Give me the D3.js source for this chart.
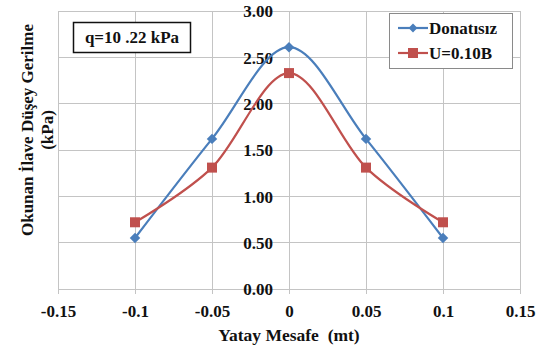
<!DOCTYPE html>
<html><head><meta charset="utf-8">
<script src="https://cdn.jsdelivr.net/npm/d3@7"></script>
<style>body{margin:0;background:#fff}svg{display:block}svg text{font-family:"Liberation Serif","Times New Roman",Times,serif;font-weight:bold}</style>
</head><body>
<svg id="c" width="542" height="351"></svg>
<script>
const xValues = [-0.1, -0.05, 0, 0.05, 0.1];
const donatisiz = [0.55, 1.62, 2.61, 1.62, 0.55];
const u010B = [0.72, 1.31, 2.33, 1.31, 0.72];
const seriesNames = ["Donatısız", "U=0.10B"];
const xTicks = [-0.15, -0.1, -0.05, 0, 0.05, 0.1, 0.15];
const xTickLabels = ["-0.15", "-0.1", "-0.05", "0", "0.05", "0.1", "0.15"];
const yTicks = [0, 0.5, 1, 1.5, 2, 2.5, 3];
const yTickLabels = ["0.00", "0.50", "1.00", "1.50", "2.00", "2.50", "3.00"];
const noteText = "q=10 .22 kPa";
const xTitle = "Yatay Mesafe  (mt)";
const yTitle1 = "Okunan İlave Düşey Gerilme";
const yTitle2 = "(kPa)";

const svg = d3.select("#c");
const L = 58, R = 520, T = 11, B = 289;
const x = d3.scaleLinear().domain([-0.15, 0.15]).range([L, R]);
const y = d3.scaleLinear().domain([0, 3]).range([B, T]);
const grid = "#c4c4c4";
const ink = "#111";

// gridlines
const g = svg.append("g");
g.selectAll(".vg").data(xTicks).enter().append("line")
  .attr("x1", d => x(d)).attr("x2", d => x(d)).attr("y1", T).attr("y2", B + 5)
  .attr("stroke", grid).attr("stroke-width", 1).attr("shape-rendering", "crispEdges");
g.selectAll(".hg").data(yTicks).enter().append("line")
  .attr("x1", L).attr("x2", R).attr("y1", d => y(d)).attr("y2", d => y(d))
  .attr("stroke", grid).attr("stroke-width", 1).attr("shape-rendering", "crispEdges");

// x axis labels
const xAxis = d3.axisBottom(x).tickValues(xTicks).tickFormat((d, i) => xTickLabels[i]).tickSize(0).tickPadding(0);
const xa = svg.append("g").attr("transform", `translate(0,${B + 15})`).call(xAxis);
xa.select(".domain").remove();
xa.attr("font-family", null).attr("font-size", null);
xa.selectAll("text").attr("font-size", 17).attr("fill", ink).attr("dy", "0.75em");

// y axis labels at x=0
const yAxis = d3.axisLeft(y).tickValues(yTicks).tickFormat((d, i) => yTickLabels[i]).tickSize(0).tickPadding(0);
const ya = svg.append("g").attr("transform", `translate(${x(0) - 16},0)`).call(yAxis);
ya.select(".domain").remove();
ya.attr("font-family", null).attr("font-size", null);
ya.selectAll("text").attr("font-size", 17).attr("fill", ink).attr("dy", "0.35em");

// series
const line = d3.line().x(d => x(d[0])).y(d => y(d[1])).curve(d3.curveCardinal.tension(0));
const colors = ["#4a7ebb", "#c0504d"];
const data = [donatisiz, u010B].map(s => xValues.map((v, i) => [v, s[i]]));
data.forEach((pts, k) => {
  svg.append("path").attr("d", line(pts)).attr("fill", "none").attr("stroke", colors[k]).attr("stroke-width", 2.2);
});
const diamond = d3.symbol().type(d3.symbolDiamond2).size(70);
svg.selectAll(".m0").data(data[0]).enter().append("path")
  .attr("d", diamond).attr("transform", d => `translate(${x(d[0])},${y(d[1])})`).attr("fill", colors[0]);
svg.selectAll(".m1").data(data[1]).enter().append("rect")
  .attr("x", d => x(d[0]) - 5).attr("y", d => y(d[1]) - 5).attr("width", 10).attr("height", 10).attr("fill", colors[1]);

// note box
svg.append("rect").attr("x", 73.5).attr("y", 22.5).attr("width", 117).attr("height", 30)
  .attr("fill", "#fff").attr("stroke", ink).attr("stroke-width", 1.5);
svg.append("text").attr("x", 132).attr("y", 43).attr("text-anchor", "middle")
  .attr("font-size", 17).attr("fill", ink).text(noteText);

// legend
svg.append("rect").attr("x", 389.5).attr("y", 13.5).attr("width", 123).attr("height", 55)
  .attr("fill", "#fff").attr("stroke", "#8a8a8a").attr("stroke-width", 1);
seriesNames.forEach((n, k) => {
  const ly = 28 + k * 25;
  svg.append("line").attr("x1", 398).attr("x2", 428).attr("y1", ly).attr("y2", ly).attr("stroke", colors[k]).attr("stroke-width", 2.2);
  if (k === 0) svg.append("path").attr("d", d3.symbol().type(d3.symbolDiamond2).size(50)).attr("transform", `translate(413,${ly})`).attr("fill", colors[0]);
  else svg.append("rect").attr("x", 408).attr("y", ly - 5).attr("width", 10).attr("height", 10).attr("fill", colors[1]);
  svg.append("text").attr("x", 429).attr("y", ly + 5.5).attr("font-size", 17).attr("fill", ink).text(n);
});

// axis titles
svg.append("text").attr("x", x(0)).attr("y", 341).attr("text-anchor", "middle")
  .attr("font-size", 17.5).attr("fill", ink)
  .attr("xml:space", "preserve").style("white-space", "pre").text(xTitle);
const yt = svg.append("text").attr("transform", "translate(33,130) rotate(-90)").attr("text-anchor", "middle")
  .attr("font-size", 17).attr("fill", ink);
yt.append("tspan").attr("x", 0).attr("y", 0).text(yTitle1);
yt.append("tspan").attr("x", 0).attr("y", 20).text(yTitle2);
</script>
</body></html>
